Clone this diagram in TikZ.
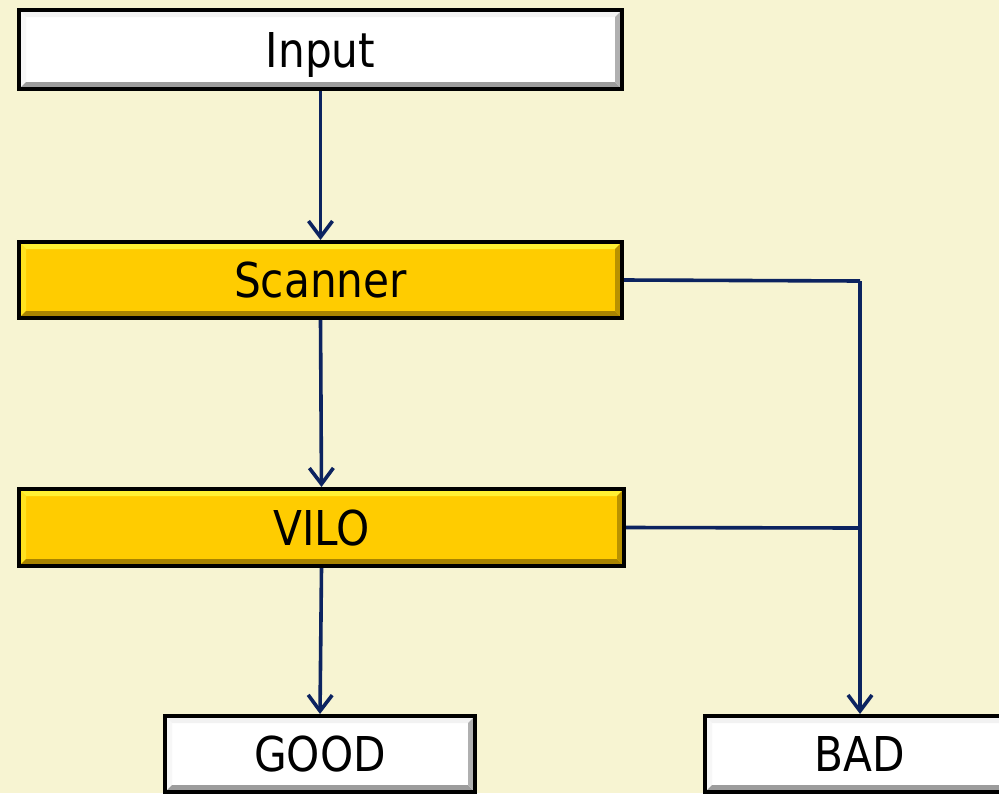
\documentclass[tikz,border=0pt]{standalone}
\usepackage{fontspec}
\setmainfont[FakeStretch=0.88]{DejaVu Sans}
\usetikzlibrary{arrows.meta}
\definecolor{paper}{HTML}{F7F4D2}
\definecolor{navy}{HTML}{0C2360}
\definecolor{gold}{HTML}{FFCC00}
\definecolor{goldlight}{HTML}{FFF033}
\definecolor{golddark}{HTML}{A88300}
\definecolor{whitedark}{HTML}{9C9C9C}
\definecolor{whitelight}{HTML}{F2F2F2}
\tikzset{
  bevel/.style n args={3}{
    fill=#1,
    path picture={
      \def\bw{7pt}
      % top and left highlights
      \fill[#2] (path picture bounding box.north west) -- (path picture bounding box.north east)
        -- ([shift={(-\bw,-\bw)}]path picture bounding box.north east)
        -- ([shift={(\bw,-\bw)}]path picture bounding box.north west) -- cycle;
      \fill[#2!60!#1] (path picture bounding box.north west) -- ([shift={(\bw,-\bw)}]path picture bounding box.north west)
        -- ([shift={(\bw,\bw)}]path picture bounding box.south west)
        -- (path picture bounding box.south west) -- cycle;
      % bottom and right shadows
      \fill[#3] (path picture bounding box.south west) -- (path picture bounding box.south east)
        -- ([shift={(-\bw,\bw)}]path picture bounding box.south east)
        -- ([shift={(\bw,\bw)}]path picture bounding box.south west) -- cycle;
      \fill[#3!80!#1] (path picture bounding box.north east) -- ([shift={(-\bw,-\bw)}]path picture bounding box.north east)
        -- ([shift={(-\bw,\bw)}]path picture bounding box.south east)
        -- (path picture bounding box.south east) -- cycle;
    }
  },
  box/.style={draw=black, line width=4pt, inner sep=0pt,
    font=\fontsize{48}{52}\selectfont, text height=35pt, text depth=0pt, text=black},
  plainbox/.style={box, bevel={white}{whitelight}{whitedark}},
  goldbox/.style={box, bevel={gold}{goldlight}{golddark}},
  link/.style={draw=navy, line width=3.6pt},
  flow/.style={link, -{Straight Barb[length=16pt,width=24pt,line width=3.6pt]}},
}
\begin{document}
\begin{tikzpicture}[x=1pt,y=-1pt]
  \fill[paper] (0,0) rectangle (999,793);
  \useasboundingbox (0,0) rectangle (999,793);

  \node[plainbox, minimum width=603pt, minimum height=79pt] (input)   at (320.5,49.5) {Input};
  \node[goldbox,  minimum width=603pt, minimum height=76pt] (scanner) at (320.5,280)  {Scanner};
  \node[goldbox,  minimum width=605pt, minimum height=77pt] (vilo)    at (321.5,527.5){VILO};
  \node[plainbox, minimum width=310pt, minimum height=76pt] (good)    at (320,754)    {GOOD};
  \node[plainbox, minimum width=310pt, minimum height=76pt] (bad)     at (860,754)    {BAD};

  \coordinate (turn) at (860,281);
  \coordinate (join) at (860,528);

  \draw[flow] (input.south) -- (scanner.north);
  \draw[flow] (scanner.south) -- (vilo.north);
  \draw[flow] (vilo.south) -- (good.north);
  \draw[link] (scanner.east) -- (turn);
  \draw[flow] (turn) -- (bad.north);
  \draw[link] (vilo.east) -- (join);
\end{tikzpicture}
\end{document}
